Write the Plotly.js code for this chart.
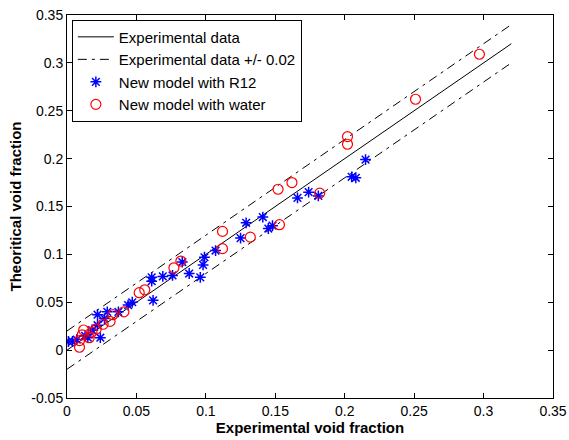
<!DOCTYPE html>
<html>
<head>
<meta charset="utf-8">
<script src="https://cdn.plot.ly/plotly-3.0.1.min.js"></script>
<style>html,body{margin:0;padding:0;background:#fff;}#chart{width:569px;height:440px;}</style>
</head>
<body>
<div id="chart"></div>
<script>
// Reference line range
const lineX = [0, 0.32];
const offset = 0.02;

// New model with R12 (experimental, theoretical)
const r12X = [0.215, 0.205, 0.208, 0.181, 0.174, 0.166, 0.141, 0.148, 0.145, 0.129, 0.125, 0.107, 0.099, 0.098, 0.096, 0.088, 0.083, 0.076, 0.069, 0.061, 0.061, 0.062, 0.047, 0.044, 0.037, 0.029, 0.027, 0.022, 0.022, 0.018, 0.024, 0.015, 0.013, 0.007, 0.004, 0.001];
const r12Y = [0.199, 0.181, 0.180, 0.161, 0.165, 0.159, 0.139, 0.130, 0.127, 0.133, 0.117, 0.104, 0.097, 0.089, 0.076, 0.080, 0.092, 0.078, 0.077, 0.076, 0.072, 0.052, 0.050, 0.047, 0.040, 0.040, 0.033, 0.037, 0.026, 0.021, 0.013, 0.013, 0.015, 0.011, 0.009, 0.009];

// New model with water
const waterX = [0.297, 0.251, 0.202, 0.202, 0.182, 0.162, 0.152, 0.153, 0.132, 0.112, 0.112, 0.082, 0.077, 0.056, 0.052, 0.041, 0.033, 0.031, 0.026, 0.021, 0.018, 0.012, 0.011, 0.009, 0.009, 0.016];
const waterY = [0.309, 0.262, 0.223, 0.215, 0.164, 0.175, 0.168, 0.131, 0.118, 0.124, 0.106, 0.093, 0.086, 0.063, 0.060, 0.040, 0.037, 0.030, 0.027, 0.022, 0.019, 0.021, 0.016, 0.010, 0.003, 0.013];

const xTicks = [0, 0.05, 0.1, 0.15, 0.2, 0.25, 0.3, 0.35];
const xTickText = ['0', '0.05', '0.1', '0.15', '0.2', '0.25', '0.3', '0.35'];
const yTicks = [-0.05, 0, 0.05, 0.1, 0.15, 0.2, 0.25, 0.3, 0.35];
const yTickText = ['-0.05', '0', '0.05', '0.1', '0.15', '0.2', '0.25', '0.3', '0.35'];

const traces = [
  {x: lineX, y: lineX, mode: 'lines', name: 'Experimental data',
   line: {color: 'black', width: 1}},
  {x: lineX, y: lineX.map(v => v + offset), mode: 'lines', name: 'Experimental data +/- 0.02',
   line: {color: 'black', width: 1, dash: '9px,5px,3px,5px'}, legendgroup: 'pm'},
  {x: lineX, y: lineX.map(v => v - offset), mode: 'lines', name: 'Experimental data -0.02',
   line: {color: 'black', width: 1, dash: '9px,5px,3px,5px'}, legendgroup: 'pm', showlegend: false},
  {x: r12X, y: r12Y, mode: 'markers', name: 'New model with R12',
   marker: {symbol: 'asterisk-open', size: 9, color: 'blue', line: {color: 'blue', width: 1.5}}},
  {x: waterX, y: waterY, mode: 'markers', name: 'New model with water',
   marker: {symbol: 'circle-open', size: 10, color: 'red', line: {color: 'red', width: 1.2}}}
];

const axisCommon = {
  showgrid: false, zeroline: false, showline: true, linecolor: 'black', linewidth: 1,
  mirror: 'ticks', ticks: 'inside', ticklen: 5, tickcolor: 'black',
  tickfont: {family: 'Liberation Sans, Arial, sans-serif', size: 14, color: 'black'}
};

const layout = {
  width: 569, height: 440,
  margin: {l: 67, r: 16, t: 15, b: 42},
  paper_bgcolor: 'white', plot_bgcolor: 'white',
  showlegend: true,
  legend: {x: 0.01, y: 0.988, xanchor: 'left', yanchor: 'top', bgcolor: 'white',
    bordercolor: 'black', borderwidth: 1,
    font: {family: 'Liberation Sans, Arial, sans-serif', size: 15, color: 'black'},
    tracegroupgap: 0, itemwidth: 36},
  xaxis: Object.assign({}, axisCommon, {
    range: [0, 0.35], tickvals: xTicks, ticktext: xTickText,
    title: {text: '<b>Experimental void fraction</b>', standoff: 2,
      font: {family: 'Liberation Sans, Arial, sans-serif', size: 15, color: 'black'}}
  }),
  yaxis: Object.assign({}, axisCommon, {
    range: [-0.05, 0.35], tickvals: yTicks, ticktext: yTickText,
    title: {text: '<b>Theoritical void fraction</b>', standoff: 6,
      font: {family: 'Liberation Sans, Arial, sans-serif', size: 15, color: 'black'}}
  })
};

Plotly.newPlot('chart', traces, layout, {displayModeBar: false, staticPlot: true});
</script>
</body>
</html>
